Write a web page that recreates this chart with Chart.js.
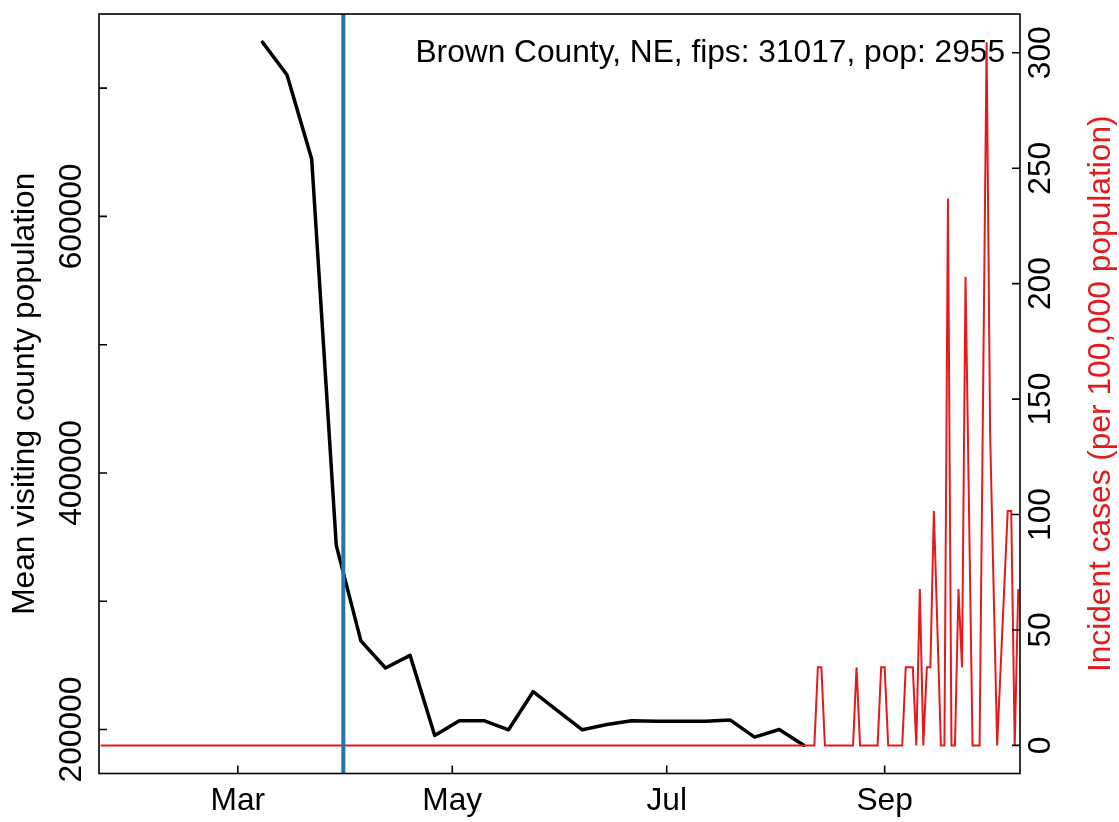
<!DOCTYPE html>
<html>
<head>
<meta charset="utf-8">
<script src="https://cdn.jsdelivr.net/npm/chart.js@4.4.1/dist/chart.umd.min.js"></script>
<style>
  html, body { margin: 0; padding: 0; background: #fff; }
</style>
</head>
<body>
<canvas id="chart" width="1119" height="822"></canvas>
<script>
// x values are days since 2020-01-01
const monthTickDays = [60, 121, 182, 244]
const monthTickLabels = ['Mar', 'May', 'Jul', 'Sep']

const mobilityTicks = [200000, 300000, 400000, 500000, 600000, 700000]
const mobilityTickLabels = ['200000', '', '400000', '', '600000', '']
const caseTicks = [0, 50, 100, 150, 200, 250, 300]

// weekly mean visiting county population
const mobilityDays = [67, 74, 81, 88, 95, 102, 109, 116, 123, 130, 137, 144,
  151, 158, 165, 172, 179, 186, 193, 200, 207, 214, 221]
const mobilityValues = [735900, 710200, 644800, 343600, 269100, 248000, 257800,
  195400, 206900, 206900, 199800, 229500, 214600, 199800, 203900, 206900,
  206500, 206400, 206500, 207500, 194100, 200000, 187700]

// daily incident cases per 100,000
const caseDays = [21, 224, 225, 226, 227, 235, 236, 237, 242, 243, 244, 245,
  249, 250, 251, 252, 253, 254, 255, 256, 257, 258, 259, 260, 261, 262, 263,
  264, 265, 266, 267, 268, 269, 270, 271, 272, 273, 274, 275, 276, 277, 278,
  279, 280, 281, 282]
const caseValues = [0, 0, 33.84, 33.84, 0, 0, 33.84, 0, 0, 33.84, 33.84, 0,
  0, 33.84, 33.84, 33.84, 0, 67.68, 0, 33.84, 33.84, 101.5, 50.8, 0, 0, 236.9, 0,
  0, 67.68, 33.84, 203.0, 101.5, 0, 0, 0, 152.3, 304.6, 135.4, 67.68, 0, 33.84, 67.68,
  101.5, 101.5, 0, 67.68]

const interventionDay = 90
const titleText = 'Brown County, NE, fips: 31017, pop: 2955'
const leftTitle = 'Mean visiting county population'
const rightTitle = 'Incident cases (per 100,000 population)'

const fontFamily = '"Liberation Sans", Arial, Helvetica, sans-serif'
const fontSize = 31.7
const caseColor = '#e41a1c'

Chart.defaults.font.family = fontFamily
Chart.defaults.font.size = fontSize
Chart.defaults.color = '#000'

const toPoints = (xs, ys) => xs.map((x, i) => ({x: x, y: ys[i]}))

const framePlugin = {
  id: 'frame',
  beforeDatasetsDraw(chart) {
    const {ctx, chartArea} = chart
    ctx.save()
    ctx.font = `${fontSize}px ${fontFamily}`
    ctx.fillStyle = '#000'
    ctx.textAlign = 'right'
    ctx.textBaseline = 'middle'
    ctx.fillText(titleText, chartArea.right - 15, chartArea.top + 39)
    ctx.restore()
  },
  afterDatasetsDraw(chart) {
    const {ctx, chartArea, scales} = chart
    const x = scales.x.getPixelForValue(interventionDay)
    ctx.save()
    ctx.strokeStyle = '#1f78b4'
    ctx.lineWidth = 4
    ctx.beginPath()
    ctx.moveTo(x, chartArea.top)
    ctx.lineTo(x, chartArea.bottom)
    ctx.stroke()
    ctx.restore()
  },
  afterDraw(chart) {
    const {ctx, chartArea, scales} = chart
    const tick = 8
    ctx.save()
    ctx.strokeStyle = '#000'
    ctx.lineWidth = 1.6
    ctx.strokeRect(chartArea.left, chartArea.top,
      chartArea.right - chartArea.left, chartArea.bottom - chartArea.top)
    ctx.beginPath()
    scales.x.ticks.forEach(t => {
      const px = scales.x.getPixelForValue(t.value)
      ctx.moveTo(px, chartArea.bottom)
      ctx.lineTo(px, chartArea.bottom - tick)
    })
    scales.y.ticks.forEach(t => {
      const py = scales.y.getPixelForValue(t.value)
      ctx.moveTo(chartArea.left, py)
      ctx.lineTo(chartArea.left + tick, py)
    })
    scales.y1.ticks.forEach(t => {
      const py = scales.y1.getPixelForValue(t.value)
      ctx.moveTo(chartArea.right, py)
      ctx.lineTo(chartArea.right - tick, py)
    })
    ctx.stroke()

    // axis titles, both reading bottom to top
    const midY = (chartArea.top + chartArea.bottom) / 2
    ctx.font = `${fontSize}px ${fontFamily}`
    ctx.textAlign = 'center'
    ctx.textBaseline = 'middle'
    ctx.translate(25, midY)
    ctx.rotate(-Math.PI / 2)
    ctx.fillStyle = '#000'
    ctx.fillText(leftTitle, 0, 0)
    ctx.restore()

    ctx.save()
    ctx.font = `${fontSize}px ${fontFamily}`
    ctx.textAlign = 'center'
    ctx.textBaseline = 'middle'
    ctx.translate(1101, midY)
    ctx.rotate(-Math.PI / 2)
    ctx.fillStyle = caseColor
    ctx.fillText(rightTitle, 0, 0)
    ctx.restore()
  }
}

const config = {
  type: 'line',
  data: {
    datasets: [
      {
        label: 'Incident cases',
        data: toPoints(caseDays, caseValues),
        yAxisID: 'y1',
        borderColor: caseColor,
        borderWidth: 2,
        pointRadius: 0,
        tension: 0,
        fill: false
      },
      {
        label: 'Mean visiting county population',
        data: toPoints(mobilityDays, mobilityValues),
        yAxisID: 'y',
        borderColor: '#000',
        borderWidth: 3.5,
        borderJoinStyle: 'round',
        borderCapStyle: 'round',
        pointRadius: 0,
        tension: 0,
        fill: false
      }
    ]
  },
  options: {
    responsive: false,
    devicePixelRatio: 1,
    animation: false,
    layout: {padding: {top: 5, left: 0, right: 0, bottom: 0}},
    plugins: {
      legend: {display: false},
      tooltip: {enabled: false}
    },
    scales: {
      x: {
        type: 'linear',
        min: 20.5,
        max: 282.5,
        grid: {display: false, drawTicks: false},
        border: {display: false},
        afterBuildTicks: (scale) => { scale.ticks = monthTickDays.map(v => ({value: v})) },
        afterFit: (scale) => { scale.height = 48.5 },
        ticks: {
          autoSkip: false,
          maxRotation: 0,
          padding: 9,
          callback: (v) => monthTickLabels[monthTickDays.indexOf(v)]
        }
      },
      y: {
        type: 'linear',
        position: 'left',
        min: 165716,
        max: 757780,
        grid: {display: false, drawTicks: false},
        border: {display: false},
        afterBuildTicks: (scale) => { scale.ticks = mobilityTicks.map(v => ({value: v})) },
        afterFit: (scale) => { scale.width = 99 },
        ticks: {
          autoSkip: false,
          minRotation: 90,
          maxRotation: 90,
          crossAlign: 'center',
          padding: -26,
          callback: (v) => mobilityTickLabels[mobilityTicks.indexOf(v)]
        }
      },
      y1: {
        type: 'linear',
        position: 'right',
        min: -12.18,
        max: 316.8,
        grid: {display: false, drawTicks: false},
        border: {display: false},
        afterBuildTicks: (scale) => { scale.ticks = caseTicks.map(v => ({value: v})) },
        afterFit: (scale) => { scale.width = 99 },
        ticks: {
          autoSkip: false,
          minRotation: 90,
          maxRotation: 90,
          crossAlign: 'center',
          padding: -5,
          callback: (v) => String(v)
        }
      }
    }
  },
  plugins: [framePlugin]
}

new Chart(document.getElementById('chart'), config)
</script>
</body>
</html>
